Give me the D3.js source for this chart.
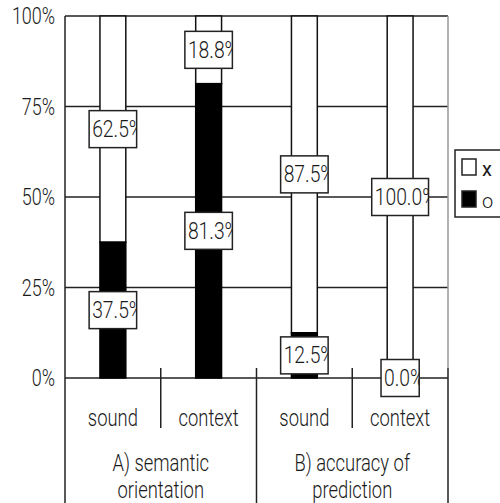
<!DOCTYPE html>
<html>
<head>
<meta charset="utf-8">
<script src="https://cdn.jsdelivr.net/npm/d3@7"></script>
<style>
  html, body { margin: 0; padding: 0; background: #fff; }
  svg { display: block; }
  text { font-family: Roboto, "Liberation Sans", Arial, sans-serif; font-weight: 300; fill: #1a1a1a; }
</style>
</head>
<body>
<svg id="chart" width="500" height="503"></svg>
<script>
// Bar categories and their two groups
const categories = ["sound", "context", "sound", "context"];
const groupLabels = [["A) semantic", "orientation"], ["B) accuracy of", "prediction"]];
// Share answered "o" (black) and "x" (white), in percent
const oValues = [37.5, 81.3, 12.5, 0.0];
const xValues = [62.5, 18.8, 87.5, 100.0];
const yTicks = [0, 25, 50, 75, 100];
const legendItems = [{ key: "x", fill: "#fff" }, { key: "o", fill: "#000" }];

const svg = d3.select("#chart");
const plotLeft = 65, plotRight = 448, plotTop = 16, plotBottom = 378;

const y = d3.scaleLinear().domain([0, 100]).range([plotBottom, plotTop]);
const x = d3.scaleBand()
  .domain(d3.range(categories.length))
  .range([plotLeft, plotRight])
  .paddingInner(0.73)
  .paddingOuter(0.365);
const step = x.step();

// narrow text helper
function ntext(g, tx, ty, str, size, anchor, scale) {
  return g.append("g").attr("transform", `translate(${tx},${ty}) scale(${scale},1)`)
    .append("text").attr("font-size", size).attr("text-anchor", anchor || "middle").text(str);
}

// horizontal gridlines
svg.append("g").selectAll("line").data(yTicks).join("line")
  .attr("x1", plotLeft).attr("x2", plotRight)
  .attr("y1", d => y(d)).attr("y2", d => y(d))
  .attr("stroke", "#222").attr("stroke-width", 1.5);

// y tick labels
const yl = svg.append("g");
yTicks.forEach(t => ntext(yl, 55, y(t) + 8, t + "%", 23, "end", 0.78));

// frame and separators below the plot
const seps = svg.append("g").attr("stroke", "#222").attr("stroke-width", 1.5);
seps.append("line").attr("x1", plotLeft).attr("x2", plotLeft).attr("y1", plotTop).attr("y2", 503);
seps.append("line").attr("x1", plotRight).attr("x2", plotRight).attr("y1", plotTop).attr("y2", 368)
  .attr("stroke", "#999");
seps.append("line").attr("x1", plotRight).attr("x2", plotRight).attr("y1", 368).attr("y2", 503);
categories.forEach((c, i) => {
  if (i === 0) return;
  const bx = plotLeft + step * i;
  const groupEdge = i % 2 === 0;
  seps.append("line").attr("x1", bx).attr("x2", bx)
    .attr("y1", 368).attr("y2", groupEdge ? 503 : 428);
});

// stacked bars
const bars = svg.append("g");
categories.forEach((c, i) => {
  const o = oValues[i];
  const top2 = Math.min(100, o + xValues[i]);
  bars.append("rect")
    .attr("x", x(i)).attr("width", x.bandwidth())
    .attr("y", y(top2)).attr("height", y(o) - y(top2))
    .attr("fill", "#fff").attr("stroke", "#111").attr("stroke-width", 1.5);
  if (o > 0) {
    bars.append("rect")
      .attr("x", x(i)).attr("width", x.bandwidth())
      .attr("y", y(o)).attr("height", y(0) - y(o))
      .attr("fill", "#000").attr("stroke", "#000").attr("stroke-width", 1.5);
  }
});

// value labels in boxes at segment mid-points
const defs = svg.append("defs");
const labels = svg.append("g");
let clipId = 0;
function valueBox(cx, cy, val) {
  const str = val.toFixed(1) + "%";
  const w = 9.3 * str.length + 1, h = 37;
  const bx = cx - w / 2, by = cy - h / 2;
  const id = "clip" + (clipId++);
  defs.append("clipPath").attr("id", id)
    .append("rect").attr("x", bx).attr("y", by).attr("width", w).attr("height", h);
  labels.append("rect").attr("x", bx).attr("y", by).attr("width", w).attr("height", h)
    .attr("fill", "#fff").attr("stroke", "#222").attr("stroke-width", 1.5);
  const g = labels.append("g").attr("clip-path", `url(#${id})`);
  ntext(g, bx + 3, cy + 8, str, 23, "start", 0.84);
}
categories.forEach((c, i) => {
  const o = oValues[i];
  const top2 = Math.min(100, o + xValues[i]);
  valueBox(x(i) + x.bandwidth() / 2, y((o + top2) / 2), xValues[i]);
  valueBox(x(i) + x.bandwidth() / 2, y(o / 2), oValues[i]);
});

// category and group labels
const cl = svg.append("g");
categories.forEach((c, i) => ntext(cl, x(i) + x.bandwidth() / 2, 426, c, 23, "middle", 0.8));
groupLabels.forEach((lines, gi) => {
  const cx = plotLeft + step * (2 * gi + 1);
  lines.forEach((ln, li) => ntext(cl, cx, 471 + li * 27, ln, 23, "middle", 0.8));
});

// legend
const lg = svg.append("g");
lg.append("rect").attr("x", 455).attr("y", 150).attr("width", 50).attr("height", 67)
  .attr("fill", "#fff").attr("stroke", "#222").attr("stroke-width", 1.5);
legendItems.forEach((d, i) => {
  const ly = 159 + i * 32;
  lg.append("rect").attr("x", 462).attr("y", ly).attr("width", 14).attr("height", 16)
    .attr("fill", d.fill).attr("stroke", "#222").attr("stroke-width", 1.5);
  lg.append("text").attr("x", 482).attr("y", ly + 17).attr("font-size", 20)
    .style("font-weight", i === 0 ? 400 : 300)
    .attr("fill", i === 0 ? "#111" : "#666").text(d.key);
});
</script>
</body>
</html>
